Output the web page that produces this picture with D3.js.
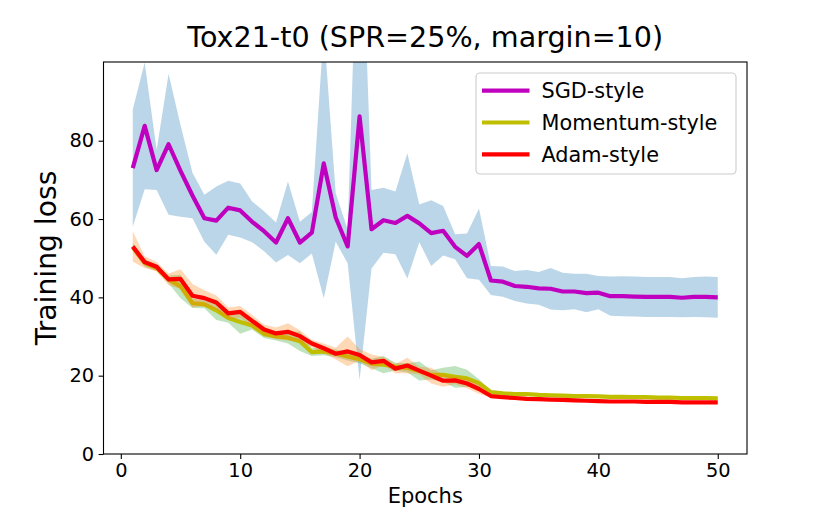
<!DOCTYPE html>
<html>
<head>
<meta charset="utf-8">
<script src="https://cdn.jsdelivr.net/npm/d3@7"></script>
<style>
  html, body { margin: 0; padding: 0; background: #fff; }
  svg { display: block; font-family: "DejaVu Sans", sans-serif; }
</style>
</head>
<body>
<svg id="chart" width="830" height="519"></svg>
<script>
const epochs = d3.range(1, 51);

const sgdMean = [73.0,83.8,72.5,79.1,72.3,66.0,60.2,59.6,62.9,62.2,
                 59.3,56.9,54.0,60.2,54.0,56.5,74.2,60.4,53.0,86.2,
                 57.4,59.7,59.0,60.8,58.9,56.4,57.0,52.9,50.6,53.6,
                 44.3,44.0,42.9,42.7,42.3,42.2,41.5,41.5,41.1,41.2,
                 40.3,40.3,40.2,40.1,40.1,40.1,39.9,40.1,40.1,40.0];
const sgdStd  = [15.0,16.2,5.1,18.0,11.7,5.8,6.0,8.7,6.9,6.9,
                 5.2,5.1,5.1,9.4,5.3,5.3,34.4,6.2,4.3,67.3,
                 10.0,8.3,8.0,16.0,4.8,8.4,6.3,3.2,5.7,9.1,
                 3.7,3.85,3.8,4.3,4.2,5.3,4.8,4.55,4.9,4.25,
                 5.0,5.1,5.1,5.1,5.1,5.1,5.0,5.1,5.2,5.2];

const momMean = [52.8,48.8,47.5,44.6,42.8,38.5,38.2,36.7,34.7,33.7,
                 32.8,30.6,30.0,29.7,28.8,26.0,26.2,25.7,24.9,24.2,
                 23.1,22.8,22.3,22.0,21.2,20.2,20.2,19.7,19.3,18.1,
                 15.8,15.5,15.3,15.3,15.1,15.0,14.9,14.8,14.8,14.7,
                 14.6,14.6,14.5,14.5,14.4,14.4,14.3,14.3,14.3,14.2];
const momStd  = [1.0,1.0,0.8,1.0,3.0,1.2,1.0,2.5,1.2,3.0,
                 1.0,1.0,1.0,1.5,2.5,1.0,1.0,1.0,1.0,1.0,
                 1.2,2.2,1.0,1.2,2.4,1.2,1.8,2.8,2.2,1.0,
                 0.4,0.3,0.3,0.3,0.3,0.3,0.3,0.3,0.3,0.3,
                 0.3,0.3,0.3,0.3,0.3,0.3,0.3,0.3,0.3,0.3];

const adamMean = [53.0,49.0,47.8,44.6,44.7,40.4,39.8,38.7,35.9,36.3,
                  34.0,31.8,30.8,31.2,30.1,28.2,27.0,25.6,26.2,25.3,
                  23.4,23.8,21.8,22.6,21.3,20.0,18.7,18.8,18.0,16.6,
                  14.8,14.5,14.3,14.1,14.0,13.9,13.8,13.7,13.6,13.5,
                  13.4,13.4,13.4,13.3,13.3,13.3,13.2,13.2,13.2,13.2];
const adamStd  = [3.9,1.5,1.2,1.5,2.5,3.0,2.0,1.8,1.5,1.5,
                  1.5,1.3,1.5,2.2,1.5,1.0,1.2,1.5,3.8,1.5,
                  2.0,1.0,1.2,2.0,1.0,2.0,1.5,1.0,1.2,1.2,
                  0.4,0.3,0.3,0.3,0.3,0.3,0.3,0.3,0.3,0.3,
                  0.3,0.3,0.3,0.3,0.3,0.3,0.3,0.3,0.3,0.3];

const seriesNames = ["SGD-style", "Momentum-style", "Adam-style"];
const lineColors = ["#bf00bf", "#bfbf00", "#ff0000"];
const bandColors = ["#1f77b4", "#2ca02c", "#ff7f0e"];
const xTicks = [0, 10, 20, 30, 40, 50];
const yTicks = [0, 20, 40, 60, 80];
const titleText = "Tox21-t0 (SPR=25%, margin=10)";
const xLabel = "Epochs";
const yLabel = "Training loss";

const series = [
  {name: seriesNames[0], mean: sgdMean, std: sgdStd, line: lineColors[0], band: bandColors[0]},
  {name: seriesNames[1], mean: momMean, std: momStd, line: lineColors[1], band: bandColors[1]},
  {name: seriesNames[2], mean: adamMean, std: adamStd, line: lineColors[2], band: bandColors[2]}
];

const svg = d3.select("#chart");
const L = 103.5, R = 747, T = 62, B = 454;

const x = d3.scaleLinear().domain([-1.45, 52.45]).range([L, R]);
const y = d3.scaleLinear().domain([0, 100.1]).range([B, T]);

svg.append("defs").append("clipPath").attr("id", "clip")
  .append("rect").attr("x", L).attr("y", T).attr("width", R - L).attr("height", B - T);

const plot = svg.append("g").attr("clip-path", "url(#clip)");

series.forEach(s => {
  const area = d3.area()
    .x((d, i) => x(epochs[i]))
    .y0((d, i) => y(s.mean[i] - s.std[i]))
    .y1((d, i) => y(s.mean[i] + s.std[i]));
  plot.append("path").datum(s.mean).attr("d", area)
    .attr("fill", s.band).attr("fill-opacity", 0.3).attr("stroke", "none");
  const line = d3.line().x((d, i) => x(epochs[i])).y(d => y(d));
  plot.append("path").datum(s.mean).attr("d", line)
    .attr("fill", "none").attr("stroke", s.line).attr("stroke-width", 4.2)
    .attr("stroke-linejoin", "round").attr("stroke-linecap", "butt");
});

// Axes
const xAxis = d3.axisBottom(x).tickValues(xTicks).tickSize(4.9).tickPadding(4.5);
const gx = svg.append("g").attr("transform", `translate(0,${B})`).call(xAxis);
const yAxis = d3.axisLeft(y).tickValues(yTicks).tickSize(4.9).tickPadding(4.5);
const gy = svg.append("g").attr("transform", `translate(${L},0)`).call(yAxis);
[gx, gy].forEach(g => {
  g.select(".domain").remove();
  g.selectAll(".tick line").attr("stroke", "#000").attr("stroke-width", 1.1);
  g.selectAll(".tick text").attr("fill", "#000").style("font-size", "19.4px")
    .style("font-family", "DejaVu Sans, sans-serif");
});

// spines
svg.append("rect").attr("x", L).attr("y", T).attr("width", R - L).attr("height", B - T)
  .attr("fill", "none").attr("stroke", "#000").attr("stroke-width", 1.1);

// Title and labels
svg.append("text").attr("x", (L + R) / 2).attr("y", 47).attr("text-anchor", "middle")
  .style("font-size", "28.6px").text(titleText);
svg.append("text").attr("x", (L + R) / 2).attr("y", 503).attr("text-anchor", "middle")
  .style("font-size", "21px").text(xLabel);
svg.append("text").attr("transform", `translate(56,${(T + B) / 2}) rotate(-90)`)
  .attr("text-anchor", "middle").style("font-size", "28.2px").text(yLabel);

// Legend
const lg = svg.append("g");
lg.append("rect").attr("x", 476).attr("y", 73).attr("width", 260).attr("height", 101)
  .attr("rx", 4).attr("fill", "#fff").attr("fill-opacity", 0.8)
  .attr("stroke", "#cccccc").attr("stroke-width", 1.1);
series.forEach((s, i) => {
  const yy = 90.7 + i * 31.8;
  lg.append("line").attr("x1", 482).attr("x2", 529.5).attr("y1", yy).attr("y2", yy)
    .attr("stroke", s.line).attr("stroke-width", 4.2);
  lg.append("text").attr("x", 541.5).attr("y", yy + 7.5).style("font-size", "20.8px").text(s.name);
});
</script>
</body>
</html>
